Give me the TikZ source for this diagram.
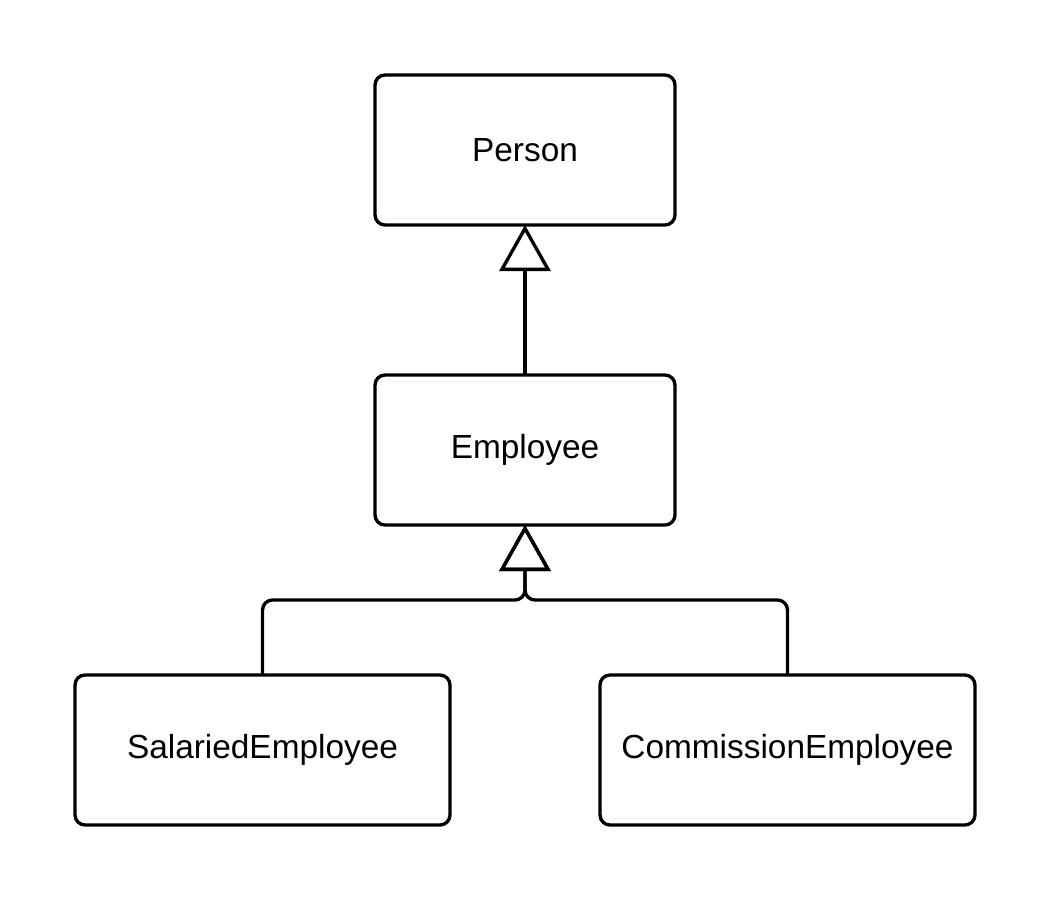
\documentclass[tikz,border=0pt]{standalone}
\usepackage{fontspec}
\setmainfont{Liberation Sans}
\usetikzlibrary{positioning,arrows.meta}

\begin{document}
\begin{tikzpicture}[
        line width=1.9pt, line join=round,
        node distance=3cm,
        class/.style={draw, rounded corners=0.2cm, minimum width=6cm, minimum height=3cm, outer sep=0pt, font=\fontsize{19}{23}\selectfont},
        wide/.style={class, minimum width=7.5cm},
        inherit/.style={-{Triangle[open, length=0.92cm, width=1.02cm]}, rounded corners=0.2cm}
    ]
        \useasboundingbox (0,0) rectangle (21,-18);
        \node[class] (person) at (10.5,-3) {Person};
        \node[class, below=of person] (employee) {Employee};
        \node[wide, below=of employee, xshift=-5.25cm] (salaried) {SalariedEmployee};
        \node[wide, below=of employee, xshift=5.25cm] (commission) {CommissionEmployee};
        \coordinate[below=1.5cm of employee] (split);
        \draw[inherit] (employee.north) -- (person.south);
        \draw[inherit] (salaried.north) |- (split) -- (employee.south);
        \draw[inherit] (commission.north) |- (split) -- (employee.south);
    \end{tikzpicture}
\end{document}
